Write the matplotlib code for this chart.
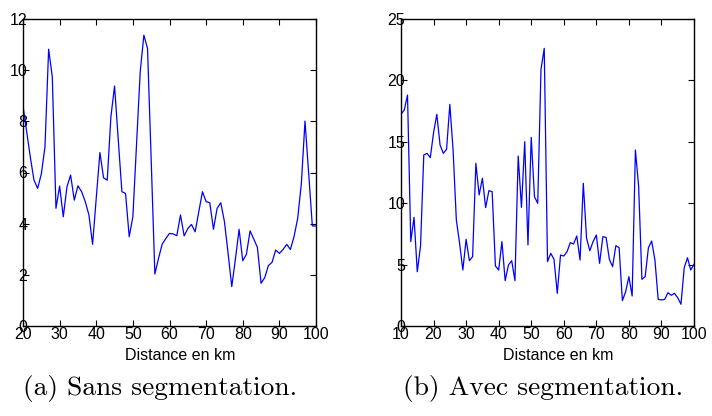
import matplotlib.pyplot as plt
from matplotlib import font_manager

# courbe (a) : sans segmentation, un point par km de 20 a 100
km_a = list(range(20, 101))
val_a = [8.6, 7.6, 6.6, 5.7, 5.38, 5.94, 7.0, 10.82, 9.74, 4.6,
         5.47, 4.27, 5.44, 5.9, 4.92, 5.48, 5.25, 4.86, 4.34, 3.19,
         5.0, 6.78, 5.79, 5.7, 8.18, 9.38, 7.3, 5.25, 5.18, 3.49,
         4.27, 7.1, 9.93, 11.37, 10.85, 6.5, 2.03, 2.64, 3.2, 3.42,
         3.62, 3.6, 3.53, 4.34, 3.52, 3.81, 3.97, 3.68, 4.47, 5.25,
         4.86, 4.82, 3.78, 4.6, 4.82, 4.08, 2.84, 1.54, 2.62, 3.78,
         2.55, 2.8, 3.72, 3.4, 3.07, 1.67, 1.89, 2.36, 2.49, 2.97,
         2.84, 2.99, 3.19, 2.99, 3.49, 4.21, 5.57, 8.01, 5.96, 3.91,
         3.91]

# courbe (b) : avec segmentation, un point par km de 10 a 100
km_b = list(range(10, 101))
val_b = [17.24, 17.59, 18.81, 6.87, 8.85, 4.42, 6.51, 13.93, 14.06, 13.71,
         15.74, 17.24, 14.74, 14.06, 14.39, 18.05, 14.33, 8.63, 6.73, 4.56,
         7.06, 5.32, 5.65, 13.25, 10.67, 12.03, 9.64, 11.02, 10.94, 4.89,
         4.56, 6.87, 3.69, 4.97, 5.32, 3.69, 13.84, 9.66, 15.01, 6.6,
         15.36, 10.53, 9.99, 20.9, 22.61, 5.24, 5.92, 5.43, 2.66, 5.78,
         5.7, 6.05, 6.79, 6.68, 7.33, 5.37, 11.62, 7.14, 6.13, 6.87,
         7.41, 5.1, 7.27, 7.22, 5.43, 4.83, 6.54, 6.38, 2.06, 2.79,
         4.02, 2.44, 14.33, 11.35, 3.8, 4.02, 6.38, 6.92, 5.37, 2.17,
         2.12, 2.17, 2.71, 2.5, 2.66, 2.3, 1.77, 4.75, 5.56, 4.56,
         5.02]

xticks_a = list(range(20, 101, 10))
yticks_a = list(range(0, 13, 2))
xticks_b = list(range(10, 101, 10))
yticks_b = list(range(0, 26, 5))

xlabel = "Distance en km"
cap_a = "(a) Sans segmentation."
cap_b = "(b) Avec segmentation."

names = [f.name for f in font_manager.fontManager.ttflist]
serif = "cmr10" if "cmr10" in names else "DejaVu Serif"

plt.rcParams['font.family'] = "Liberation Sans"
plt.rcParams['axes.linewidth'] = 1.0

fig = plt.figure(figsize=(7.12, 4.16), dpi=100)


def panel(rect, x, y, xt, yt):
    ax = fig.add_axes(rect)
    ax.plot(x, y, color=(0, 0, 1), lw=0.9)
    ax.set_xlim(xt[0], xt[-1])
    ax.set_ylim(yt[0], yt[-1])
    ax.set_xticks(xt)
    ax.set_yticks(yt)
    ax.tick_params(direction='in', top=True, right=True, length=4,
                   width=0.8, labelsize=11.5, colors='black')
    ax.tick_params(axis='y', pad=-3)
    ax.tick_params(axis='x', pad=0.5)
    ax.text(0.536, -0.096, xlabel, transform=ax.transAxes,
            ha='center', va='center', fontsize=11.5)
    return ax


panel([23 / 712, 1 - 326 / 416, 293 / 712, 307 / 416],
      km_a, val_a, xticks_a, yticks_a)
panel([401 / 712, 1 - 326 / 416, 293 / 712, 307 / 416],
      km_b, val_b, xticks_b, yticks_b)

fig.text(160 / 712, 1 - 389 / 416, cap_a, family=serif, fontsize=19.8,
         ha='center', va='center')
fig.text(543 / 712, 1 - 389 / 416, cap_b, family=serif, fontsize=19.8,
         ha='center', va='center')

fig.savefig("out.png", dpi=100)
